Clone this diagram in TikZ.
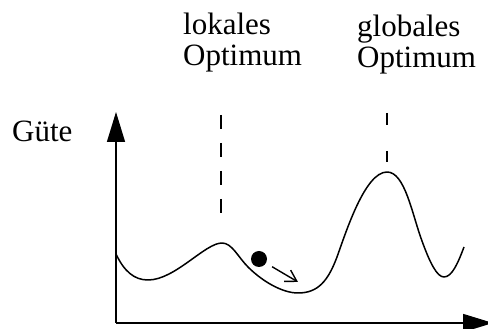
\documentclass[tikz,border=0pt]{standalone}
\usepackage{fontspec}
\setmainfont{Liberation Serif}
\usepackage{tikz}
\usetikzlibrary{arrows.meta,positioning}

\begin{document}
\begin{tikzpicture}[
    x=1pt, y=1pt,
    opttext/.style={anchor=base west, inner sep=0pt, font=\fontsize{31}{31}\selectfont},
    axis/.style={-{Triangle[length=30pt,width=18pt]}, line width=1.5pt},
    curve/.style={line width=1.5pt, line join=round},
    marker/.style={line width=1.4pt},
    ball/.style={circle, fill=black, minimum size=16pt, inner sep=0pt},
    move/.style={-{Straight Barb[length=11pt,width=13pt]}, line width=1.4pt}
]
\useasboundingbox (0,0) rectangle (488,329);

% Labels
\node[opttext] (lok1) at (183,294) {lokales};
\node[opttext] (lok2) at (183,263) {Optimum};
\node[opttext] (glob1) at (357,292) {globales};
\node[opttext] (glob2) at (357,261) {Optimum};
\node[opttext] (guete) at (12,187) {Güte};

% Axes
\coordinate (origin) at (116,6);
\coordinate (ytop) at (116,217);
\coordinate (xend) at (493,6);
\draw[axis] (origin) -- (ytop);
\draw[axis] (origin) -- (xend);

% Quality landscape
\draw[curve] (116,75) .. controls (124,58) and (134,49) .. (148,49)
    .. controls (175,49) and (205,86) .. (222,86)
    .. controls (232,86) and (238,72) .. (248,62)
    .. controls (262,48) and (282,36) .. (298,36)
    .. controls (318,36) and (328,48) .. (337,72)
    .. controls (346,97) and (365,157) .. (387,157)
    .. controls (405,157) and (412,115) .. (422,88)
    .. controls (430,66) and (437,52) .. (444,52)
    .. controls (452,52) and (458,66) .. (464,82);

% Optimum markers
\draw[marker, dash pattern=on 14pt off 14pt] (221,214) -- (221,116);
\draw[marker, dash pattern=on 12pt off 26pt] (387,216) -- (387,167);

% Ball
\node[ball] (ball) at (259,70) {};
\coordinate (goal) at (298,47);
\draw[move, shorten <=7pt] (ball) -- (goal);
\end{tikzpicture}
\end{document}
